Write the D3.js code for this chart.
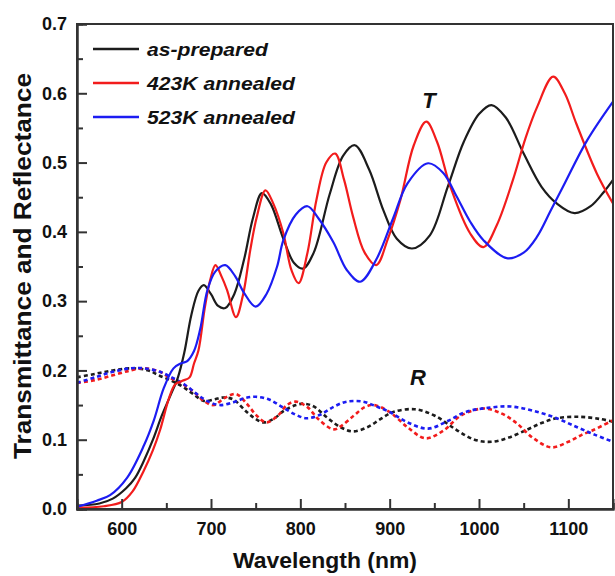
<!DOCTYPE html>
<html>
<head>
<meta charset="utf-8">
<script src="https://cdn.jsdelivr.net/npm/d3@7"></script>
<style>
  body { margin: 0; background: #fff; }
  text { font-family: "Liberation Sans", Arial, sans-serif; font-weight: bold; fill: #111; }
</style>
</head>
<body>
<div id="chart"></div>
<script>
// chart values, [wavelength nm, value]
const seriesNames = ["as-prepared", "423K annealed", "523K annealed"];
const seriesColors = ["#1c1c1c", "#f21c1c", "#1c1cf2"];

const asPreparedT = [[550,0.005],[575,0.008],[590,0.015],[605,0.03],[615,0.045],[625,0.07],[635,0.1],[645,0.135],[655,0.165],[663,0.19],[670,0.225],[678,0.28],[686,0.315],[692,0.323],[700,0.31],[708,0.293],[716,0.29],[726,0.31],[737,0.36],[747,0.42],[757,0.456],[767,0.44],[781,0.39],[793,0.355],[803,0.347],[815,0.37],[833,0.455],[848,0.51],[861,0.525],[877,0.49],[893,0.431],[908,0.39],[925,0.376],[945,0.395],[965,0.465],[983,0.53],[1000,0.57],[1014,0.583],[1030,0.565],[1050,0.513],[1070,0.465],[1087,0.441],[1107,0.427],[1125,0.437],[1140,0.458],[1150,0.475]];
const annealed423T = [[550,0.002],[580,0.004],[600,0.01],[612,0.025],[625,0.056],[635,0.085],[643,0.114],[653,0.16],[660,0.18],[668,0.185],[676,0.19],[681,0.21],[686,0.229],[693,0.29],[699,0.33],[705,0.352],[712,0.335],[718,0.316],[728,0.277],[736,0.31],[744,0.374],[751,0.42],[761,0.46],[770,0.44],[781,0.398],[790,0.345],[798,0.326],[808,0.37],[818,0.446],[829,0.5],[839,0.513],[849,0.475],[859,0.422],[872,0.37],[885,0.352],[898,0.39],[912,0.446],[927,0.525],[941,0.559],[953,0.53],[968,0.465],[990,0.398],[1005,0.378],[1020,0.41],[1038,0.475],[1052,0.535],[1065,0.58],[1083,0.624],[1096,0.6],[1109,0.556],[1132,0.484],[1150,0.441]];
const annealed523T = [[550,0.003],[572,0.012],[587,0.02],[606,0.045],[625,0.092],[636,0.128],[647,0.174],[658,0.203],[666,0.21],[673,0.213],[681,0.228],[688,0.26],[696,0.316],[705,0.343],[716,0.352],[727,0.336],[737,0.312],[750,0.292],[762,0.31],[774,0.35],[781,0.388],[795,0.425],[808,0.437],[820,0.42],[837,0.385],[852,0.345],[867,0.328],[885,0.36],[904,0.42],[920,0.47],[943,0.499],[960,0.485],[975,0.451],[990,0.415],[1005,0.388],[1031,0.362],[1050,0.37],[1065,0.393],[1080,0.43],[1094,0.465],[1121,0.532],[1150,0.588]];

const asPreparedR = [[550,0.19],[570,0.195],[590,0.2],[610,0.203],[630,0.2],[643,0.192],[656,0.185],[669,0.176],[681,0.165],[692,0.156],[703,0.158],[714,0.161],[725,0.158],[740,0.14],[750,0.13],[759,0.125],[770,0.13],[782,0.142],[795,0.15],[804,0.152],[815,0.148],[830,0.132],[845,0.118],[859,0.112],[875,0.118],[890,0.13],[904,0.14],[928,0.144],[950,0.135],[975,0.114],[995,0.1],[1014,0.097],[1033,0.103],[1053,0.114],[1070,0.124],[1087,0.131],[1113,0.133],[1135,0.13],[1150,0.126]];
const annealed423R = [[550,0.182],[570,0.186],[590,0.193],[610,0.2],[625,0.203],[643,0.198],[653,0.19],[666,0.182],[680,0.17],[692,0.156],[703,0.15],[715,0.16],[728,0.166],[740,0.152],[751,0.135],[762,0.125],[775,0.135],[785,0.15],[795,0.155],[808,0.147],[820,0.13],[837,0.115],[846,0.12],[860,0.135],[872,0.147],[882,0.15],[900,0.14],[920,0.118],[940,0.102],[960,0.113],[980,0.135],[1005,0.145],[1025,0.138],[1042,0.124],[1060,0.103],[1081,0.089],[1100,0.097],[1115,0.107],[1128,0.114],[1150,0.128]];
const annealed523R = [[550,0.182],[570,0.19],[590,0.198],[610,0.203],[625,0.203],[643,0.198],[656,0.19],[670,0.18],[685,0.165],[697,0.155],[710,0.15],[725,0.154],[738,0.16],[750,0.162],[765,0.158],[780,0.147],[795,0.136],[807,0.131],[822,0.136],[838,0.148],[852,0.155],[870,0.155],[885,0.148],[900,0.14],[920,0.125],[943,0.116],[965,0.127],[985,0.14],[1010,0.146],[1035,0.148],[1060,0.142],[1087,0.131],[1110,0.118],[1130,0.107],[1150,0.097]];

const xMajorTicks = [600, 700, 800, 900, 1000, 1100];
const xMinorTicks = [650, 750, 850, 950, 1050, 1150];
const yMajorTicks = [0, 0.1, 0.2, 0.3, 0.4, 0.5, 0.6, 0.7];
const yMinorTicks = [0.05, 0.15, 0.25, 0.35, 0.45, 0.55, 0.65];

const WIDTH = 615, HEIGHT = 576;
const margin = { left: 77, right: 2, top: 24, bottom: 67 };

const svg = d3.select("#chart").append("svg")
  .attr("width", WIDTH)
  .attr("height", HEIGHT);

const x = d3.scaleLinear().domain([550, 1150]).range([margin.left, WIDTH - margin.right]);
const y = d3.scaleLinear().domain([0, 0.7]).range([HEIGHT - margin.bottom, margin.top]);

const line = d3.line()
  .x(d => x(d[0]))
  .y(d => y(d[1]))
  .curve(d3.curveCatmullRom.alpha(0.5));

const plot = svg.append("g");

// reflectance (dashed)
[asPreparedR, annealed423R, annealed523R].forEach((s, i) => {
  plot.append("path")
    .attr("d", line(s))
    .attr("fill", "none")
    .attr("stroke", seriesColors[i])
    .attr("stroke-width", 2.6)
    .attr("stroke-dasharray", "4,3");
});

// transmittance (solid)
[asPreparedT, annealed423T, annealed523T].forEach((s, i) => {
  plot.append("path")
    .attr("d", line(s))
    .attr("fill", "none")
    .attr("stroke", seriesColors[i])
    .attr("stroke-width", 2.2);
});

// frame
svg.append("rect")
  .attr("x", x(550)).attr("y", y(0.7))
  .attr("width", x(1150) - x(550)).attr("height", y(0) - y(0.7))
  .attr("fill", "none").attr("stroke", "#333").attr("stroke-width", 2);

// axes, ticks pointing inward
const xAxis = svg.append("g")
  .attr("transform", `translate(0,${y(0)})`)
  .call(d3.axisBottom(x).tickValues(xMajorTicks).tickSize(-10).tickPadding(13).tickFormat(d3.format("d")));
svg.append("g")
  .attr("transform", `translate(0,${y(0)})`)
  .call(d3.axisBottom(x).tickValues(xMinorTicks).tickSize(-6).tickFormat(""));

const yAxis = svg.append("g")
  .attr("transform", `translate(${x(550)},0)`)
  .call(d3.axisLeft(y).tickValues(yMajorTicks).tickSize(-10).tickPadding(10).tickFormat(d3.format(".1f")));
svg.append("g")
  .attr("transform", `translate(${x(550)},0)`)
  .call(d3.axisLeft(y).tickValues(yMinorTicks).tickSize(-6).tickFormat(""));

svg.selectAll(".domain").attr("stroke", "#333").attr("stroke-width", 2);
svg.selectAll(".tick line").attr("stroke", "#333").attr("stroke-width", 2);
svg.selectAll(".tick text").style("font-size", "18px").attr("fill", "#111");

// axis titles
svg.append("text")
  .attr("x", 325).attr("y", 568)
  .attr("text-anchor", "middle")
  .attr("textLength", 184).attr("lengthAdjust", "spacingAndGlyphs")
  .style("font-size", "22px")
  .text("Wavelength (nm)");

svg.append("text")
  .attr("transform", "translate(31,266) rotate(-90)")
  .attr("text-anchor", "middle")
  .attr("textLength", 386).attr("lengthAdjust", "spacingAndGlyphs")
  .style("font-size", "24px")
  .text("Transmittance and Reflectance");

// legend
const legendWidths = [121, 148, 148];
seriesNames.forEach((name, i) => {
  const ly = 49 + i * 34;
  svg.append("line")
    .attr("x1", 93).attr("x2", 139)
    .attr("y1", ly).attr("y2", ly)
    .attr("stroke", seriesColors[i]).attr("stroke-width", 2.5);
  svg.append("text")
    .attr("x", 147).attr("y", ly + 7)
    .attr("textLength", legendWidths[i]).attr("lengthAdjust", "spacingAndGlyphs")
    .style("font-size", "19px").style("font-style", "italic")
    .text(name);
});

// curve group labels
svg.append("text")
  .attr("x", 429).attr("y", 108)
  .attr("text-anchor", "middle")
  .style("font-size", "22px").style("font-style", "italic")
  .text("T");
svg.append("text")
  .attr("x", 418).attr("y", 385)
  .attr("text-anchor", "middle")
  .style("font-size", "22px").style("font-style", "italic")
  .text("R");
</script>
</body>
</html>
